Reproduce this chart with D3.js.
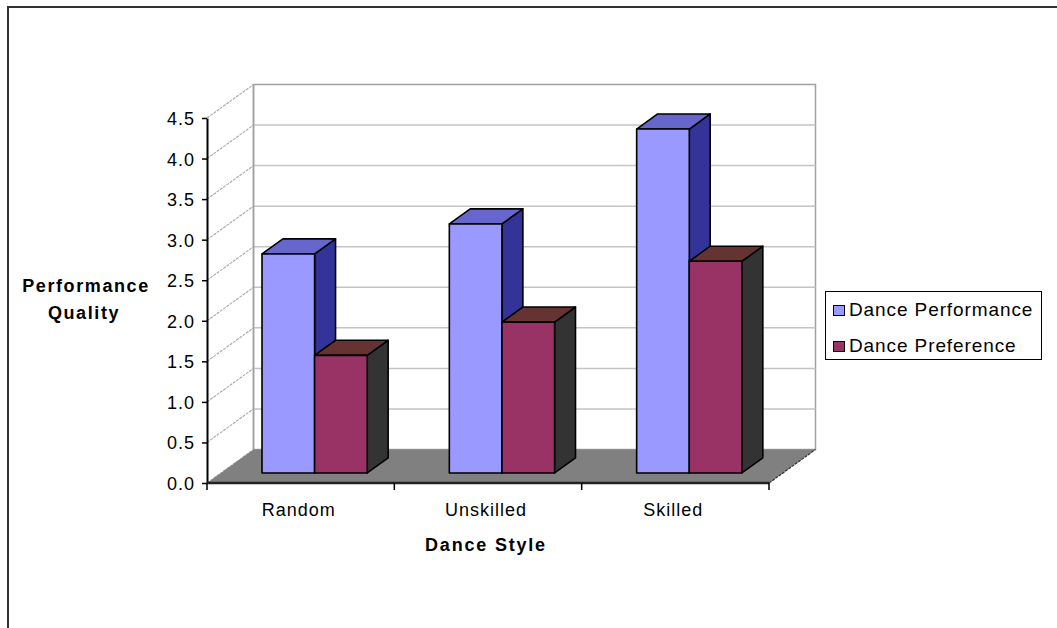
<!DOCTYPE html>
<html>
<head>
<meta charset="utf-8">
<script src="https://cdn.jsdelivr.net/npm/d3@7/dist/d3.min.js"></script>
<style>
  html, body { margin: 0; padding: 0; background: #fff; }
  svg { display: block; }
  text { font-family: Arial, "Liberation Sans", sans-serif; fill: #000; }
</style>
</head>
<body>
<svg id="chart" width="1057" height="628"></svg>
<script>
// Chart data
const categories = ["Random", "Unskilled", "Skilled"];
const seriesNames = ["Dance Performance", "Dance Preference"];
const performance = [2.7, 3.07, 4.24];
const preference = [1.45, 1.86, 2.61];
const yTicks = [0, 0.5, 1, 1.5, 2, 2.5, 3, 3.5, 4, 4.5];

// Face colours for each series: front, top, side
const palette = [
  { front: "#9999ff", top: "#6666cc", side: "#333399" },
  { front: "#993366", top: "#663333", side: "#333333" }
];

const svg = d3.select("#chart");

// Outer chart-area frame
svg.append("path")
  .attr("d", "M8,628 L8,7 L1057,7")
  .attr("fill", "none")
  .attr("stroke", "#333")
  .attr("stroke-width", 2);

// Front plane scales
const x = d3.scaleBand().domain(categories).range([207, 769]);
const y = d3.scaleLinear().domain([0, 4.5]).range([483, 118]);
const bw = x.bandwidth();

// Oblique depth offset of the whole plot box
const DX = 46.5, DY = 33.5;
const proj = (px, py, z) => [px + z * DX, py - z * DY];

const x0 = x.range()[0], x1 = x.range()[1];

// Back wall
const backTL = proj(x0, y(4.5), 1), backBR = proj(x1, y(0), 1);
svg.append("rect")
  .attr("x", backTL[0]).attr("y", backTL[1])
  .attr("width", backBR[0] - backTL[0]).attr("height", backBR[1] - backTL[1])
  .attr("fill", "#fff").attr("stroke", "#a0a0a0").attr("stroke-width", 1.5);

// Gridlines on back wall and left wall
const grid = svg.append("g");
yTicks.forEach(v => {
  const a = proj(x0, y(v), 0), b = proj(x0, y(v), 1), c = proj(x1, y(v), 1);
  grid.append("path")
    .attr("d", `M${a[0]},${a[1]} L${b[0]},${b[1]}`)
    .attr("stroke", "#a8a8a8").attr("fill", "none").attr("stroke-width", 1.1)
    .attr("stroke-dasharray", "3,1");
  if (v > 0 && v < 4.5) {
    grid.append("path")
      .attr("d", `M${b[0]},${b[1]} L${c[0]},${c[1]}`)
      .attr("stroke", "#c4c4c4").attr("fill", "none").attr("stroke-width", 1.5);
  }
});
// Left wall back edge
{
  const p = proj(x0, y(0), 1), q = proj(x0, y(4.5), 1);
  svg.append("path").attr("d", `M${p[0]},${p[1]} L${q[0]},${q[1]}`)
    .attr("stroke", "#a0a0a0").attr("stroke-width", 1.5);
}

// Floor
{
  const pts = [proj(x0, y(0), 0), proj(x1, y(0), 0), proj(x1, y(0), 1), proj(x0, y(0), 1)];
  svg.append("path")
    .attr("d", "M" + pts.map(p => p.join(",")).join(" L") + " Z")
    .attr("fill", "#808080").attr("stroke", "none");
  svg.append("path")
    .attr("d", `M${pts[1][0]},${pts[1][1]} L${pts[2][0]},${pts[2][1]}`)
    .attr("stroke", "#303030").attr("stroke-width", 1.2).attr("stroke-dasharray", "3,1");
}

// Bars
const inner = d3.scaleBand().domain([0, 1])
  .range([0, bw]).paddingOuter(0.78).paddingInner(0);
const zFront = 0.3, zBack = 0.75;
const seriesValues = [performance, preference];

const bars = svg.append("g");
categories.forEach((cat, i) => {
  seriesValues.forEach((vals, s) => {
    const v = vals[i];
    const l = x(cat) + inner(s), r = l + inner.bandwidth();
    const t = y(v), b = y(0);
    const fTL = proj(l, t, zFront), fTR = proj(r, t, zFront), fBR = proj(r, b, zFront), fBL = proj(l, b, zFront);
    const bTL = proj(l, t, zBack), bTR = proj(r, t, zBack), bBR = proj(r, b, zBack);
    const poly = ps => "M" + ps.map(p => p.join(",")).join(" L") + " Z";
    const col = palette[s];
    bars.append("path").attr("d", poly([fTR, bTR, bBR, fBR]))
      .attr("fill", col.side).attr("stroke", "#000").attr("stroke-width", 1.6).attr("stroke-linejoin", "round");
    bars.append("path").attr("d", poly([fTL, bTL, bTR, fTR]))
      .attr("fill", col.top).attr("stroke", "#000").attr("stroke-width", 1.6).attr("stroke-linejoin", "round");
    bars.append("path").attr("d", poly([fTL, fTR, fBR, fBL]))
      .attr("fill", col.front).attr("stroke", "#000").attr("stroke-width", 1.6).attr("stroke-linejoin", "round");
  });
});

// Value axis
const yAxis = svg.append("g")
  .attr("transform", `translate(${x0},0)`)
  .call(d3.axisLeft(y).tickValues(yTicks).tickFormat(d3.format(".1f"))
    .tickSize(5).tickSizeOuter(0).tickPadding(7));
yAxis.select(".domain").attr("stroke", "#000").attr("stroke-width", 2);
yAxis.selectAll(".tick line").attr("stroke", "#000").attr("stroke-width", 1.5);
yAxis.selectAll(".tick text")
  .attr("font-size", 18).attr("letter-spacing", 1)
  .attr("font-family", "Arial, 'Liberation Sans', sans-serif")
  .attr("fill", "#111")
  .attr("dy", "0.36em");

// Category axis
svg.append("path")
  .attr("d", `M${x0},${y(0)} L${x1},${y(0)}`)
  .attr("stroke", "#222").attr("stroke-width", 2.5);
const catTicks = categories.map(c => x(c)).concat([x1]);
svg.append("g").selectAll("line").data(catTicks).join("line")
  .attr("x1", d => d).attr("x2", d => d)
  .attr("y1", y(0)).attr("y2", y(0) + 7)
  .attr("stroke", "#000").attr("stroke-width", 1.5);
svg.append("g").selectAll("text").data(categories).join("text")
  .attr("x", d => x(d) + bw / 2 - 2)
  .attr("y", 516)
  .attr("text-anchor", "middle")
  .attr("font-size", 18).attr("letter-spacing", 1)
  .text(d => d);

// Axis titles
svg.append("text")
  .attr("x", 486).attr("y", 551)
  .attr("text-anchor", "middle")
  .attr("font-size", 18).attr("font-weight", "bold").attr("letter-spacing", 1.8)
  .text("Dance Style");
const yTitle = svg.append("text")
  .attr("text-anchor", "middle")
  .attr("font-size", 18).attr("font-weight", "bold").attr("letter-spacing", 1.6);
yTitle.append("tspan").attr("x", 86).attr("y", 292).text("Performance");
yTitle.append("tspan").attr("x", 84).attr("y", 319).text("Quality");

// Legend
const legend = svg.append("g");
legend.append("rect")
  .attr("x", 825.5).attr("y", 291.5).attr("width", 216).attr("height", 68)
  .attr("fill", "#fff").attr("stroke", "#000").attr("stroke-width", 1);
seriesNames.forEach((name, s) => {
  const yy = 305 + s * 36;
  legend.append("rect")
    .attr("x", 833.5).attr("y", yy + 0.5).attr("width", 11).attr("height", 10)
    .attr("fill", palette[s].front).attr("stroke", "#000").attr("stroke-width", 1);
  legend.append("text")
    .attr("x", 849).attr("y", yy + 11)
    .attr("font-size", 19).attr("letter-spacing", 0.9)
    .text(name);
});
</script>
</body>
</html>
